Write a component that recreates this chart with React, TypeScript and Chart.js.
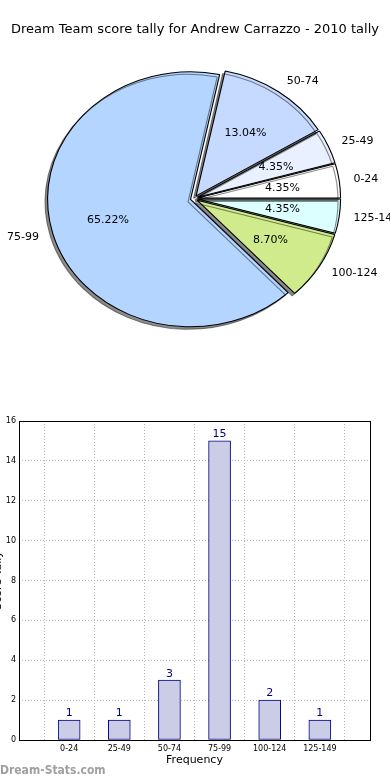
import React, { useEffect, useRef } from "react";
import { Chart, registerables, ArcElement, PieController } from "chart.js";

Chart.register(...registerables);

const TITLE = "Dream Team score tally for Andrew Carrazzo - 2010 tally";
const categories = ["0-24", "25-49", "50-74", "75-99", "100-124", "125-149"];
const tallies = [1, 1, 3, 15, 2, 1];
const sliceColors = ["#ffffff", "#e9f0ff", "#c6d9ff", "#b4d5ff", "#cfeb8b", "#dcffff"];
const yMax = 16;
const yStep = 2;
const xAxisTitle = "Frequency";
const yAxisTitle = "Score Tally";
const watermark = "Dream-Stats.com";

const FONT = '"DejaVu Sans", sans-serif';
const EXPLODE = 3.2;
const PIE_R = 127.5;
const SX = 143 / 127.5;

class ExplodedArc extends (ArcElement as any) {
  static id = "explodedArc";
  draw(ctx: CanvasRenderingContext2D) {
    const self: any = this;
    const mid = (self.startAngle + self.endAngle) / 2;
    ctx.save();
    ctx.translate(Math.cos(mid) * EXPLODE, Math.sin(mid) * EXPLODE);
    super.draw(ctx);
    ctx.restore();
  }
}

class ExplodedPieController extends (PieController as any) {
  static id = "explodedPie";
  static defaults = { dataElementType: "explodedArc" };
}

Chart.register(ExplodedArc as any, ExplodedPieController as any);

function PieChart() {
  const ref = useRef<HTMLCanvasElement>(null);
  useEffect(() => {
    const total = tallies.reduce((a, b) => a + b, 0);
    const order = categories.map((_, i) => i).reverse();
    const decor = {
      id: "pieDecor",
      beforeDatasetsDraw(chart: any) {
        const ctx = chart.ctx;
        const el = chart.getDatasetMeta(0).data[0];
        ctx.save();
        ctx.translate(el.x, 0);
        ctx.scale(SX, 1);
        ctx.translate(-el.x, 0);
        ctx.shadowColor = "rgba(0,0,0,0.45)";
        ctx.shadowOffsetX = -2.5;
        ctx.shadowOffsetY = 2.5;
        ctx.shadowBlur = 0;
      },
      afterDatasetsDraw(chart: any) {
        chart.ctx.restore();
      },
      afterDraw(chart: any) {
        const ctx = chart.ctx;
        const meta = chart.getDatasetMeta(0);
        ctx.save();
        ctx.fillStyle = "#000";
        ctx.font = `13px ${FONT}`;
        ctx.textAlign = "center";
        ctx.textBaseline = "middle";
        ctx.fillText(TITLE, 195, 30);
        ctx.font = `11px ${FONT}`;
        meta.data.forEach((el: any, j: number) => {
          const i = order[j];
          const { x, y, startAngle, endAngle } = el.getProps(["x", "y", "startAngle", "endAngle"], true);
          const mid = (startAngle + endAngle) / 2;
          const c = Math.cos(mid);
          const s = Math.sin(mid);
          const ox = x + c * EXPLODE * SX;
          const oy = y + s * EXPLODE;
          ctx.textAlign = c >= 0 ? "left" : "right";
          ctx.fillText(categories[i], ox + c * PIE_R * 1.1 * SX, oy + s * PIE_R * 1.1);
          ctx.textAlign = "center";
          ctx.fillText(
            ((tallies[i] / total) * 100).toFixed(2) + "%",
            ox + c * PIE_R * 0.6 * SX,
            oy + s * PIE_R * 0.6
          );
        });
        ctx.restore();
      },
    };
    const chart = new Chart(ref.current!, {
      type: "explodedPie" as any,
      data: {
        labels: order.map((i) => categories[i]),
        datasets: [
          {
            data: order.map((i) => tallies[i]),
            backgroundColor: order.map((i) => sliceColors[i]),
            borderColor: "#000",
            borderWidth: 1,
            offset: 0,
            hoverOffset: 0,
            clip: false,
          } as any,
        ],
      },
      options: {
        responsive: false,
        animation: false,
        events: [],
        rotation: 90,
        radius: PIE_R,
        layout: { padding: { left: 10, right: 12, top: 50, bottom: 53 } },
        plugins: { legend: { display: false }, tooltip: { enabled: false }, title: { display: false } },
      } as any,
      plugins: [decor],
    });
    return () => chart.destroy();
  }, []);
  return (
    <canvas
      ref={ref}
      width={390}
      height={400}
      style={{ position: "absolute", left: 0, top: 0, width: 390, height: 400 }}
    />
  );
}

function BarChart() {
  const ref = useRef<HTMLCanvasElement>(null);
  useEffect(() => {
    const labels = ["", ...categories, ""];
    const values = [null, ...tallies, null];
    const decor = {
      id: "barDecor",
      afterDraw(chart: any) {
        const ctx = chart.ctx;
        const a = chart.chartArea;
        ctx.save();
        ctx.strokeStyle = "#000";
        ctx.lineWidth = 1;
        ctx.strokeRect(Math.round(a.left) + 0.5, Math.round(a.top) + 0.5, Math.round(a.right - a.left), Math.round(a.bottom - a.top));
        ctx.fillStyle = "#000080";
        ctx.font = `11px ${FONT}`;
        ctx.textAlign = "center";
        ctx.textBaseline = "bottom";
        const meta = chart.getDatasetMeta(0);
        meta.data.forEach((el: any, k: number) => {
          const v = values[k];
          if (v == null) return;
          ctx.fillText(String(v), el.x, el.y - 1);
        });
        ctx.fillStyle = "#000";
        ctx.textBaseline = "middle";
        ctx.fillText(xAxisTitle, (a.left + a.right) / 2, 360);
        ctx.save();
        ctx.translate(10, (a.top + a.bottom) / 2);
        ctx.rotate(-Math.PI / 2);
        ctx.fillText(yAxisTitle, 0, 0);
        ctx.restore();
        ctx.fillStyle = "#a0a0a0";
        ctx.font = `bold 12px "DejaVu Sans Condensed", "DejaVu Sans", sans-serif`;
        ctx.textAlign = "left";
        ctx.fillText(watermark, 12, 370.5);
        ctx.restore();
      },
    };
    const chart = new Chart(ref.current!, {
      type: "bar",
      data: {
        labels,
        datasets: [
          {
            data: values,
            backgroundColor: "#cbcce6",
            borderColor: "#000080",
            borderWidth: 1,
            borderSkipped: false,
            barThickness: 22,
          } as any,
        ],
      },
      options: {
        responsive: false,
        animation: false,
        events: [],
        layout: { padding: { left: 0, right: 20, top: 21, bottom: 0 } },
        plugins: { legend: { display: false }, tooltip: { enabled: false } },
        scales: {
          x: {
            type: "category",
            offset: false,
            z: 1,
            grid: { color: "#b5b5b5", lineWidth: 1, drawTicks: false },
            border: { display: false, dash: [1, 2] },
            ticks: { font: { size: 8, family: FONT }, color: "#000", padding: 4, maxRotation: 0, autoSkip: false },
            afterFit(scale: any) {
              scale.height = 40;
            },
          },
          y: {
            min: 0,
            max: yMax,
            z: 1,
            grid: { color: "#b5b5b5", lineWidth: 1, drawTicks: false },
            border: { display: false, dash: [1, 2] },
            ticks: { stepSize: yStep, font: { size: 8, family: FONT }, color: "#000", padding: 3 },
            afterFit(scale: any) {
              scale.width = 31;
            },
          },
        },
      } as any,
      plugins: [decor],
    });
    return () => chart.destroy();
  }, []);
  return (
    <canvas
      ref={ref}
      width={402}
      height={380}
      style={{ position: "absolute", left: -12, top: 400, width: 402, height: 380 }}
    />
  );
}

export default function App() {
  return (
    <div style={{ position: "absolute", left: 0, top: 0, width: 390, height: 780, overflow: "hidden", background: "#fff" }}>
      <PieChart />
      <BarChart />
    </div>
  );
}
